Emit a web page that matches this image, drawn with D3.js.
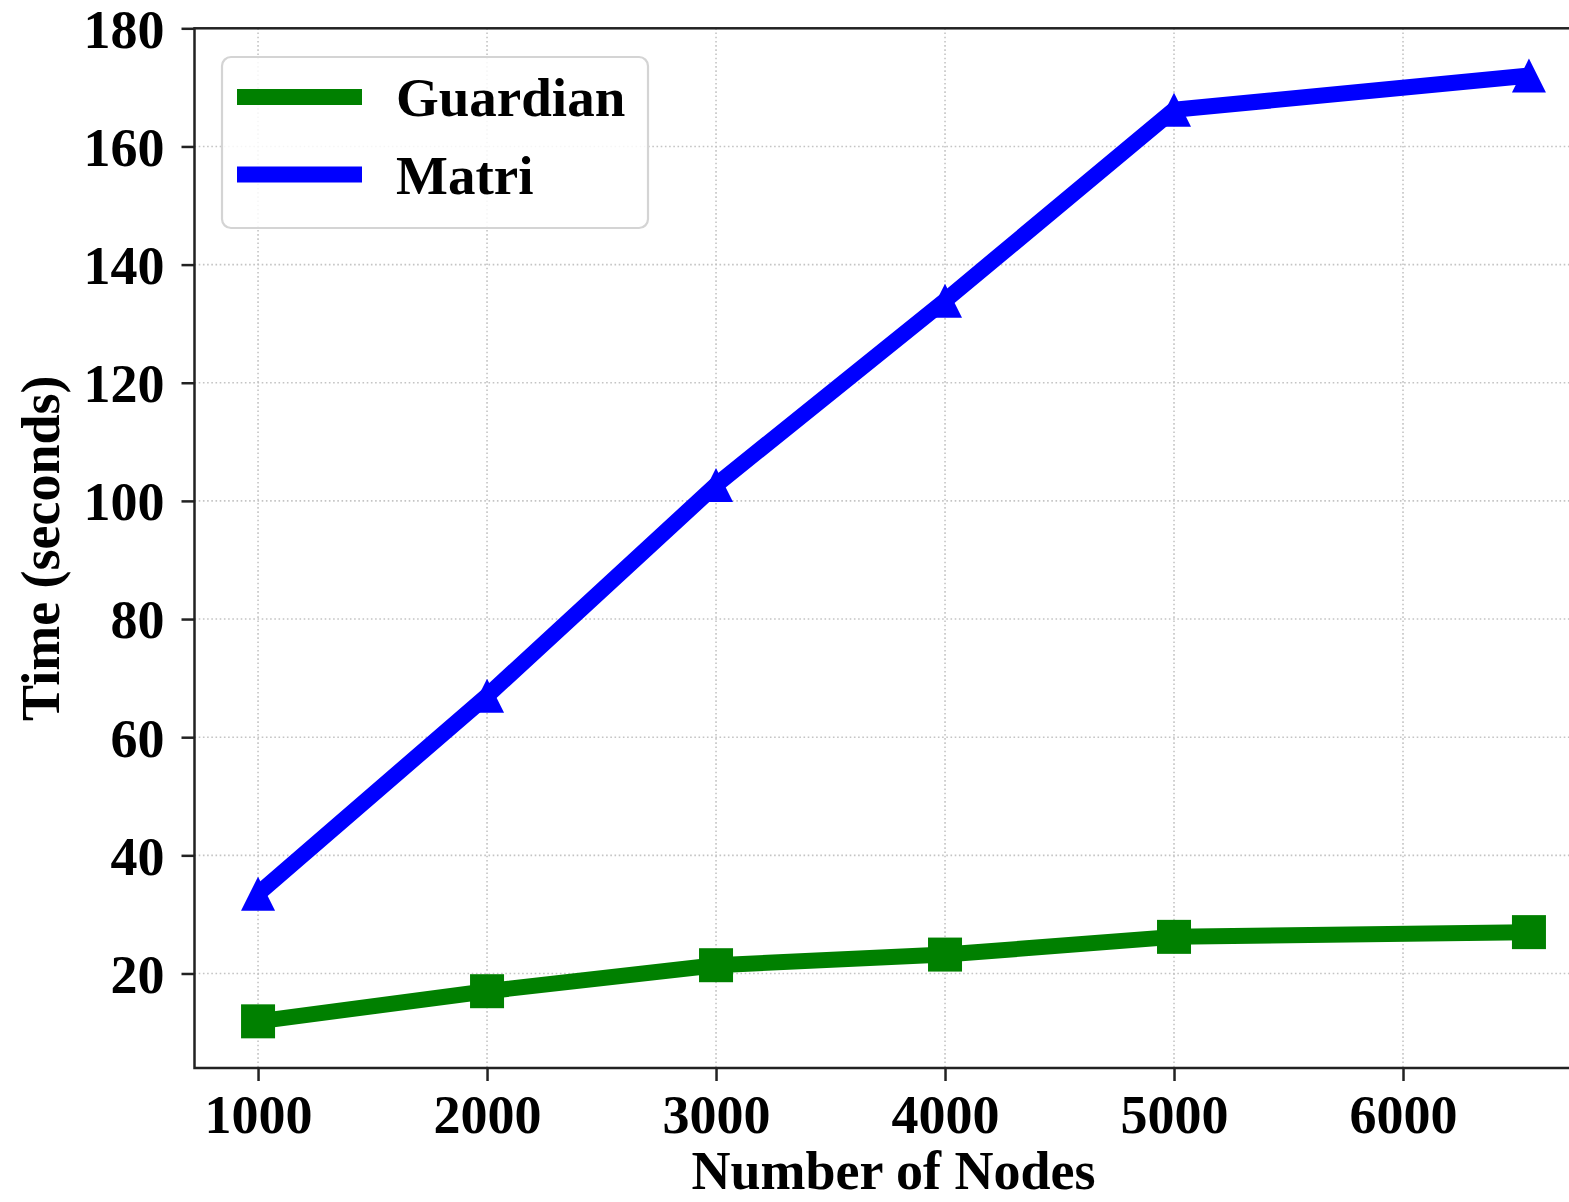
<!DOCTYPE html>
<html>
<head>
<meta charset="utf-8">
<script src="https://cdn.jsdelivr.net/npm/d3@7"></script>
<style>
  body {margin: 0; background: #fff;}
  svg text {font-family: "Liberation Serif", "Times New Roman", serif; font-weight: bold; fill: #000;}
</style>
</head>
<body>
<div id="chart"></div>
<script>
//-- Data
var node_list = [1000, 2000, 3000, 4000, 5000, 6550];
var guardian_time = [11.9, 17.0, 21.4, 23.2, 26.2, 27.0];
var matri_time = [33.5, 67.0, 102.7, 133.9, 166.2, 172.0];
var x_tick_list = [1000, 2000, 3000, 4000, 5000, 6000];
var y_tick_list = [20, 40, 60, 80, 100, 120, 140, 160, 180];
var series_name = ['Guardian', 'Matri'];
var series_color = ['#008000', '#0000ff'];

var wrap = {id: '#chart'};

function TN_Make_Canvas(wrap) {
  var tot_width = 1569;
  var tot_height = 1202;
  //-- Right spine falls outside the picture, as in the original
  var margin = {left: 194.5, right: -23.5, bottom: 134, top: 28.3};
  
  var svg = d3.select(wrap.id)
    .append("svg")
      .attr("width", tot_width)
      .attr("height", tot_height)
      .attr("viewBox", "0 0 " + tot_width + " " + tot_height);
  
  svg.append("rect")
    .attr("width", "100%")
    .attr("height", "100%")
    .attr("fill", "white");
  
  wrap.tot_width = tot_width;
  wrap.tot_height = tot_height;
  wrap.margin = margin;
  wrap.width = tot_width - margin.left - margin.right;
  wrap.height = tot_height - margin.top - margin.bottom;
  wrap.svg = svg.append("g")
    .attr("transform", "translate(" + margin.left + "," + margin.top + ")");
}

function TN_Format_Data(wrap) {
  var data = [];
  data.push(node_list.map(function (d, i) {return {x: d, y: guardian_time[i]};}));
  data.push(node_list.map(function (d, i) {return {x: d, y: matri_time[i]};}));
  wrap.formatted_data = data;
}

function TN_initialize(wrap) {
  //-- Scales, 5% padding like matplotlib
  var x_min = d3.min(node_list), x_max = d3.max(node_list);
  var pad = 0.05 * (x_max - x_min);
  var x = d3.scaleLinear()
    .domain([x_min - pad, x_max + pad])
    .range([0, wrap.width]);
  
  var y = d3.scaleLinear()
    .domain([4, 180])
    .range([wrap.height, 0]);
  
  //-- Grid
  wrap.svg.append("g")
    .selectAll("line")
    .data(x_tick_list)
    .enter()
    .append("line")
      .attr("x1", function (d) {return x(d);})
      .attr("x2", function (d) {return x(d);})
      .attr("y1", 0)
      .attr("y2", wrap.height)
      .attr("stroke", "#c4c4c4")
      .attr("stroke-width", 1.6)
      .attr("stroke-dasharray", "1.6,2.6");
  
  wrap.svg.append("g")
    .selectAll("line")
    .data(y_tick_list)
    .enter()
    .append("line")
      .attr("x1", 0)
      .attr("x2", wrap.width)
      .attr("y1", function (d) {return y(d);})
      .attr("y2", function (d) {return y(d);})
      .attr("stroke", "#c4c4c4")
      .attr("stroke-width", 1.6)
      .attr("stroke-dasharray", "1.6,2.6");
  
  //-- Axes
  var x_axis = d3.axisBottom(x)
    .tickValues(x_tick_list)
    .tickFormat(function (d) {return d;})
    .tickSizeInner(13)
    .tickSizeOuter(0)
    .tickPadding(14);
  
  var xg = wrap.svg.append("g")
    .attr("class", "xaxis")
    .attr("transform", "translate(0," + wrap.height + ")")
    .call(x_axis);
  xg.select(".domain").remove();
  xg.selectAll("line").attr("stroke", "#222").attr("stroke-width", 2.5);
  xg.selectAll("text")
    .attr("font-size", 54)
    .attr("font-family", null)
    .attr("dy", "0.71em");
  
  var y_axis = d3.axisLeft(y)
    .tickValues(y_tick_list)
    .tickFormat(function (d) {return d;})
    .tickSizeInner(13)
    .tickSizeOuter(0)
    .tickPadding(17);
  
  var yg = wrap.svg.append("g")
    .attr("class", "yaxis")
    .call(y_axis);
  yg.select(".domain").remove();
  yg.selectAll("line").attr("stroke", "#222").attr("stroke-width", 2.5);
  yg.selectAll("text")
    .attr("font-size", 54)
    .attr("font-family", null)
    .attr("dy", "0.35em");
  
  //-- Frame
  wrap.svg.append("rect")
    .attr("x", 0)
    .attr("y", 0)
    .attr("width", wrap.width)
    .attr("height", wrap.height)
    .attr("fill", "none")
    .attr("stroke", "#222")
    .attr("stroke-width", 2.5);
  
  //-- Axis labels
  wrap.svg.append("text")
    .attr("x", 0.5 * wrap.width)
    .attr("y", wrap.height + 121)
    .attr("text-anchor", "middle")
    .attr("font-size", 54)
    .text("Number of Nodes");
  
  wrap.svg.append("text")
    .attr("transform", "translate(" + (-wrap.margin.left + 59) + "," + (0.5 * wrap.height) + ") rotate(-90)")
    .attr("text-anchor", "middle")
    .attr("font-size", 54)
    .text("Time (seconds)");
  
  //-- Lines
  var line = d3.line()
    .x(function (d) {return x(d.x);})
    .y(function (d) {return y(d.y);});
  
  wrap.svg.selectAll(".content.line")
    .data(wrap.formatted_data)
    .enter()
    .append("path")
      .attr("class", "content line")
      .attr("d", line)
      .attr("fill", "none")
      .attr("stroke", function (d, i) {return series_color[i];})
      .attr("stroke-width", 16)
      .attr("stroke-linejoin", "round");
  
  //-- Markers
  var ms = 34;
  wrap.svg.selectAll(".content.square")
    .data(wrap.formatted_data[0])
    .enter()
    .append("rect")
      .attr("class", "content square")
      .attr("x", function (d) {return x(d.x) - 0.5*ms;})
      .attr("y", function (d) {return y(d.y) - 0.5*ms;})
      .attr("width", ms)
      .attr("height", ms)
      .attr("fill", series_color[0]);
  
  wrap.svg.selectAll(".content.triangle")
    .data(wrap.formatted_data[1])
    .enter()
    .append("path")
      .attr("class", "content triangle")
      .attr("d", function (d) {
        var cx = x(d.x), cy = y(d.y), h = 0.5*ms;
        return "M" + cx + "," + (cy - h) + "L" + (cx + h) + "," + (cy + h) + "L" + (cx - h) + "," + (cy + h) + "Z";
      })
      .attr("fill", series_color[1]);
  
  //-- Legend
  var legend = wrap.svg.append("g")
    .attr("transform", "translate(" + (-wrap.margin.left) + "," + (-wrap.margin.top) + ")");
  
  legend.append("rect")
    .attr("x", 222)
    .attr("y", 57)
    .attr("width", 426)
    .attr("height", 171)
    .attr("rx", 9)
    .attr("ry", 9)
    .attr("fill", "white")
    .attr("fill-opacity", 0.85)
    .attr("stroke", "#d4d4d4")
    .attr("stroke-width", 2.2);
  
  var legend_pos = {x: 237, y: 97, dx: 125, dy: 77.6};
  
  legend.selectAll(".legend.line")
    .data(series_name)
    .enter()
    .append("line")
      .attr("class", "legend line")
      .attr("x1", legend_pos.x)
      .attr("x2", legend_pos.x + legend_pos.dx)
      .attr("y1", function (d, i) {return legend_pos.y + i*legend_pos.dy;})
      .attr("y2", function (d, i) {return legend_pos.y + i*legend_pos.dy;})
      .attr("stroke", function (d, i) {return series_color[i];})
      .attr("stroke-width", 16);
  
  legend.selectAll(".legend.label")
    .data(series_name)
    .enter()
    .append("text")
      .attr("class", "legend label")
      .attr("x", 396)
      .attr("y", function (d, i) {return legend_pos.y + 19 + i*legend_pos.dy;})
      .attr("font-size", 55)
      .text(function (d) {return d;});
  
  wrap.x = x;
  wrap.y = y;
}

TN_Make_Canvas(wrap);
TN_Format_Data(wrap);
TN_initialize(wrap);
</script>
</body>
</html>
